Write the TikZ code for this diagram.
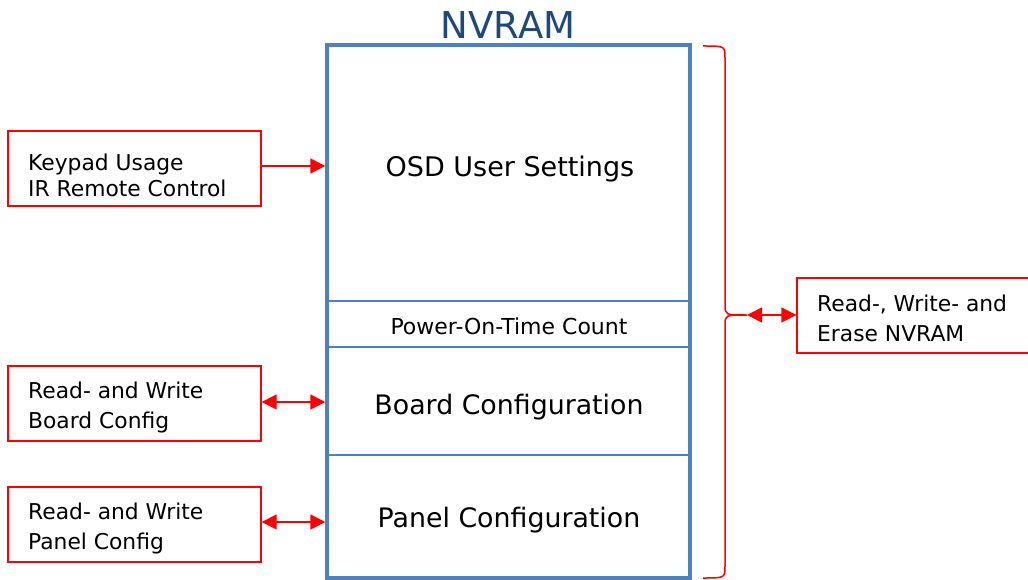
\documentclass[tikz,border=0pt]{standalone}
\usepackage{fontspec}
\setmainfont{DejaVu Sans}
\usetikzlibrary{arrows.meta}
\definecolor{memblue}{RGB}{79,129,189}
\definecolor{titleblue}{RGB}{31,73,125}
\tikzset{redbox/.style = {draw=red, line width=1.3pt, minimum width=253, minimum height=75}}
\tikzset{boxtext/.style = {anchor=north west, inner sep=0, align=left,
                           font=\fontsize{21.8}{30}\selectfont}}
\tikzset{redarrow/.style = {red, line width=1.5pt, -{Triangle[length=15pt,width=15pt]}}}
\tikzset{redboth/.style = {red, line width=1.5pt, {Triangle[length=15pt,width=15pt]}-{Triangle[length=15pt,width=15pt]}}}
\tikzset{seclabel/.style = {font=\fontsize{26.8}{30}\selectfont}}
\begin{document}
\begin{tikzpicture}[x=1pt, y=-1pt]
    \useasboundingbox (0,0) rectangle (1028,580);

    % memory block
    \node [draw=memblue, line width=3.5pt, minimum width=363, minimum height=533] (mem) at (508.5,311.5) {};
    \node [font=\fontsize{37}{40}\selectfont, text=titleblue] (title) at (508,25) {NVRAM};
    \draw [memblue, line width=1.5pt] (mem.west |- 0,301) -- (mem.east |- 0,301);
    \draw [memblue, line width=1.5pt] (mem.west |- 0,347) -- (mem.east |- 0,347);
    \draw [memblue, line width=1.5pt] (mem.west |- 0,455) -- (mem.east |- 0,455);
    \node [seclabel, font=\fontsize{27}{30}\selectfont] (osd) at (510,169) {OSD User Settings};
    \node [font=\fontsize{22}{24}\selectfont] (pot) at (509,326) {Power-On-Time Count};
    \node [seclabel] (board) at (509,407) {Board Configuration};
    \node [seclabel] (panel) at (509,520) {Panel Configuration};

    % clients
    \node [redbox] (keypad) at (134.5,168.5) {};
    \node [boxtext, font=\fontsize{21.8}{26}\selectfont] (keypadtxt) at (28,154) {Keypad Usage\\IR Remote Control};
    \node [redbox] (rwboard) at (134.5,403.5) {};
    \node [boxtext] (rwboardtxt) at (28,382) {Read- and Write\\Board Config};
    \node [redbox] (rwpanel) at (134.5,524.5) {};
    \node [boxtext] (rwpaneltxt) at (28,503) {Read- and Write\\Panel Config};
    \node [redbox, minimum width=236] (rwall) at (915,315.5) {};
    \node [boxtext] (rwalltxt) at (817,295) {Read-, Write- and\\Erase NVRAM};

    \draw [redarrow] (keypad.east |- 0,166) -- (mem.west |- 0,166);
    \draw [redboth] (rwboard.east |- 0,402) -- (mem.west |- 0,402);
    \draw [redboth] (rwpanel.east |- 0,522) -- (mem.west |- 0,522);

    % brace
    \coordinate (tip) at (747,315);
    \draw [red, line width=1.5pt] (703,46) .. controls (725,46) .. (725,58) -- (725,305)
        .. controls (725,315) .. (tip) .. controls (725,315) .. (725,325) -- (725,566)
        .. controls (725,578) .. (703,578);
    \draw [redboth] (tip) -- (rwall.west |- tip);
\end{tikzpicture}
\end{document}
